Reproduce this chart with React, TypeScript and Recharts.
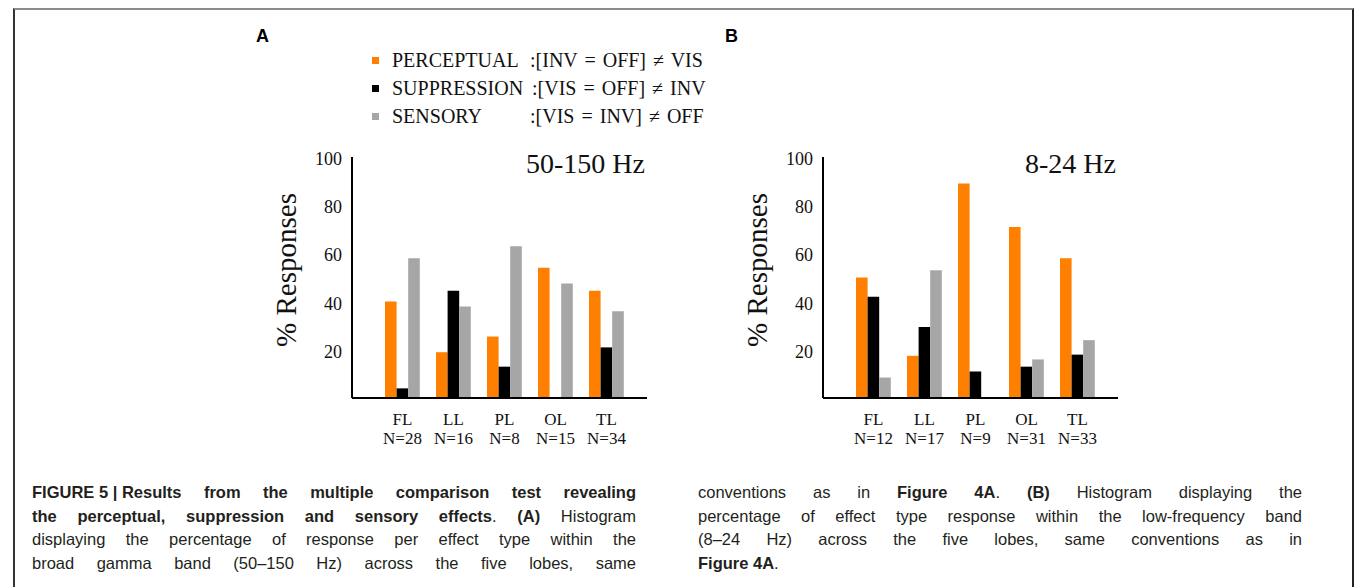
import { Bar, BarChart, XAxis, YAxis } from "recharts";

const lobes = ["FL", "LL", "PL", "OL", "TL"];
const yTicks = [20, 40, 60, 80, 100];

// panel A: broad gamma band
const gammaCounts = [28, 16, 8, 15, 34];
const gammaPerceptual = [40, 19, 25.5, 54, 44.5];
const gammaSuppression = [4, 44.5, 13, 0, 21];
const gammaSensory = [58, 38, 63, 47.5, 36];

// panel B: low-frequency band
const lowCounts = [12, 17, 9, 31, 33];
const lowPerceptual = [50, 17.5, 89, 71, 58];
const lowSuppression = [42, 29.5, 11, 13, 18];
const lowSensory = [8.5, 53, 0, 16, 24];

const effectKeys = ["perceptual", "suppression", "sensory"];
const effectNames = ["PERCEPTUAL", "SUPPRESSION", "SENSORY"];
const effectRules = [":[INV = OFF] \u2260 VIS", ":[VIS = OFF] \u2260 INV", ":[VIS = INV] \u2260 OFF"];
const effectColors = ["#ff8000", "#000000", "#a6a6a6"];

const serif = "'Liberation Serif', 'Times New Roman', serif";
const sans = "'Liberation Sans', Arial, Helvetica, sans-serif";

function buildRows(p: number[], s: number[], n: number[]) {
  return lobes.map((lobe, i) => ({ lobe, perceptual: p[i], suppression: s[i], sensory: n[i] }));
}

function YTick({ x, y, payload }: any) {
  return (
    <text x={x} y={y} dy={8} textAnchor="end" fontFamily={serif} fontSize={18} fill="#111">
      {payload.value}
    </text>
  );
}

function makeXTick(counts: number[]) {
  return function XTick({ x, y, payload }: any) {
    const i = lobes.indexOf(payload.value);
    return (
      <text x={x} y={y} textAnchor="middle" fontFamily={serif} fontSize={17} fill="#111">
        <tspan x={x} dy={19}>{payload.value}</tspan>
        <tspan x={x} dy={19}>N={counts[i]}</tspan>
      </text>
    );
  };
}

function YLabel({ viewBox }: any) {
  const cx = viewBox.x + 46;
  const cy = viewBox.y + 113;
  return (
    <text
      x={cx}
      y={cy}
      transform={`rotate(-90 ${cx} ${cy})`}
      textAnchor="middle"
      dominantBaseline="central"
      fontFamily={serif}
      fontSize={29}
      fill="#111"
    >
      % Responses
    </text>
  );
}

function Panel({ rows, counts, left, title }: { rows: any[]; counts: number[]; left: number; title: string }) {
  const XTick = makeXTick(counts);
  return (
    <div style={{ position: "absolute", left, top: 140 }}>
      <BarChart width={420} height={320} data={rows} margin={{ top: 17, right: 13, left: 0, bottom: 12 }} barGap={0} barSize={11.6}>
        <XAxis
          dataKey="lobe"
          tickLine={false}
          axisLine={{ stroke: "#000", strokeWidth: 2 }}
          padding={{ left: 25, right: 15 }}
          interval={0}
          height={50}
          tick={<XTick />}
        />
        <YAxis
          type="number"
          domain={[0, 100]}
          ticks={yTicks}
          tickLine={false}
          tickMargin={4}
          width={112}
          axisLine={{ stroke: "#000", strokeWidth: 2 }}
          tick={<YTick />}
          label={{ content: <YLabel /> }}
        />
        {effectKeys.map((k, i) => (
          <Bar key={k} dataKey={k} fill={effectColors[i]} isAnimationActive={false} />
        ))}
      </BarChart>
      <div
        style={{
          position: "absolute",
          right: 15,
          top: 8,
          fontFamily: serif,
          fontSize: 28,
          color: "#111",
          whiteSpace: "nowrap",
        }}
      >
        {title}
      </div>
    </div>
  );
}

const lineStyle = (width: number, justify: boolean) => ({
  width,
  height: 23.7,
  textAlign: (justify ? "justify" : "left") as any,
  textAlignLast: (justify ? "justify" : "left") as any,
  whiteSpace: "nowrap" as any,
});

// width of the name column in each legend row
const nameWidths = [138, 140, 138];

export default function App() {
  const gammaRows = buildRows(gammaPerceptual, gammaSuppression, gammaSensory);
  const lowRows = buildRows(lowPerceptual, lowSuppression, lowSensory);
  return (
    <div style={{ position: "absolute", left: 0, top: 0, width: 1356, height: 587, overflow: "hidden", background: "#fff" }}>
      <div
        style={{
          position: "absolute",
          left: 13,
          top: 8,
          width: 1341,
          height: 640,
          borderTop: "2px solid #8c8c8c",
          borderLeft: "2px solid #333",
          borderRight: "2px solid #222",
          boxSizing: "border-box",
        }}
      />
      <div style={{ position: "absolute", left: 256, top: 26, fontFamily: sans, fontWeight: "bold", fontSize: 18 }}>A</div>
      <div style={{ position: "absolute", left: 725, top: 26, fontFamily: sans, fontWeight: "bold", fontSize: 18 }}>B</div>

      <div style={{ position: "absolute", left: 372, top: 46, fontFamily: serif, fontSize: 20, color: "#111" }}>
        {effectNames.map((name, i) => (
          <div key={name} style={{ height: 28, display: "flex", alignItems: "center", whiteSpace: "pre" }}>
            <span style={{ width: 7, height: 7, background: effectColors[i], display: "inline-block", marginRight: 13 }} />
            <span style={{ display: "inline-block", width: nameWidths[i] }}>{name}</span>
            <span style={{ wordSpacing: 2 }}>{effectRules[i]}</span>
          </div>
        ))}
      </div>

      <Panel rows={gammaRows} counts={gammaCounts} left={240} title="50-150 Hz" />
      <Panel rows={lowRows} counts={lowCounts} left={711} title="8-24 Hz" />

      <div style={{ position: "absolute", left: 32, top: 481, fontFamily: sans, fontSize: 16.5, lineHeight: "23.7px", color: "#231f20" }}>
        <div style={lineStyle(604, true)}>
          <b style={{ display: "inline-block", whiteSpace: "pre" }}>FIGURE 5 | Results</b>
          <b> from the multiple comparison test revealing</b>
        </div>
        <div style={lineStyle(604, true)}>
          <b>the perceptual, suppression and sensory effects</b>. <b>(A)</b> Histogram
        </div>
        <div style={lineStyle(604, true)}>displaying the percentage of response per effect type within the</div>
        <div style={lineStyle(604, true)}>broad gamma band (50&ndash;150 Hz) across the five lobes, same</div>
      </div>

      <div style={{ position: "absolute", left: 698, top: 481, fontFamily: sans, fontSize: 16.5, lineHeight: "23.7px", color: "#231f20" }}>
        <div style={lineStyle(604, true)}>
          conventions as in <b>Figure 4A</b>. <b>(B)</b> Histogram displaying the
        </div>
        <div style={lineStyle(604, true)}>percentage of effect type response within the low-frequency band</div>
        <div style={lineStyle(604, true)}>(8&ndash;24 Hz) across the five lobes, same conventions as in</div>
        <div style={lineStyle(300, false)}>
          <b>Figure 4A</b>.
        </div>
      </div>
    </div>
  );
}
